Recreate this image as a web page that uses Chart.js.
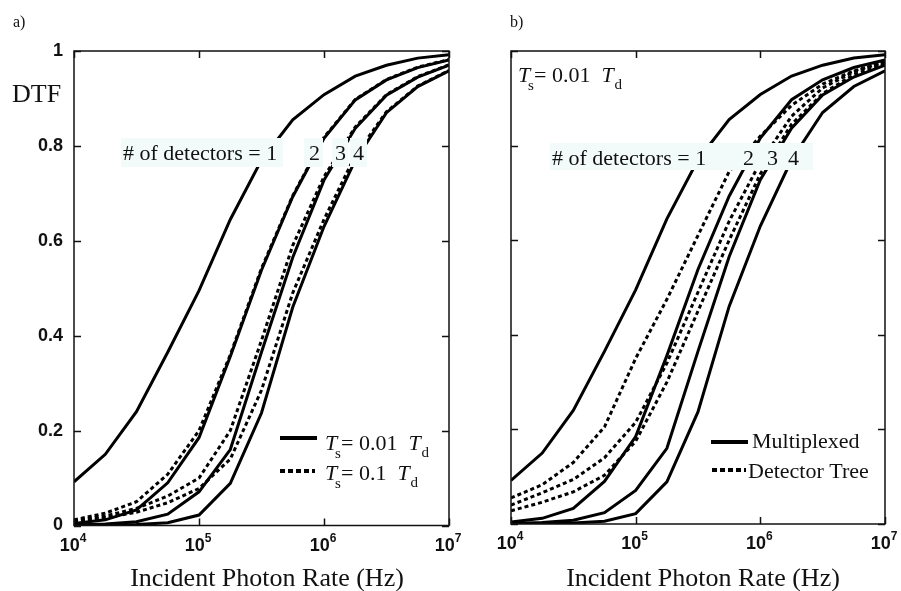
<!DOCTYPE html>
<html>
<head>
<meta charset="utf-8">
<script src="https://cdn.jsdelivr.net/npm/chart.js@4.4.0/dist/chart.umd.min.js"></script>
<style>
    html, body { margin: 0; padding: 0; background: #fff; }
    #wrap { position: relative; width: 901px; height: 591px; overflow: hidden; }
    canvas { position: absolute; top: 0; }
</style>
</head>
<body>
<div id="wrap">
    <canvas id="chartA" width="470" height="591" style="left:0"></canvas>
    <canvas id="chartB" width="451" height="591" style="left:450px"></canvas>
</div>
<script>
'use strict';

// incident photon rate (Hz), quarter decade steps
var rates = [1e4, 1.78e4, 3.16e4, 5.62e4, 1e5, 1.78e5, 3.16e5, 5.62e5, 1e6, 1.78e6, 3.16e6, 5.62e6, 1e7];

// Ts = 0.01 Td, 1..4 detectors (same curves are "Multiplexed" in panel b)
var fastN1 = [0.092, 0.150, 0.240, 0.365, 0.495, 0.645, 0.770, 0.855, 0.908, 0.947, 0.970, 0.985, 0.992];
var fastN2 = [0.004, 0.012, 0.033, 0.090, 0.185, 0.356, 0.538, 0.693, 0.816, 0.897, 0.939, 0.965, 0.981];
var fastN3 = [0.001, 0.003, 0.008, 0.024, 0.071, 0.160, 0.365, 0.565, 0.728, 0.837, 0.907, 0.945, 0.970];
var fastN4 = [0.000, 0.001, 0.002, 0.006, 0.022, 0.089, 0.237, 0.460, 0.630, 0.770, 0.870, 0.925, 0.958];

// Ts = 0.1 Td, 2..4 detectors
var slowN2 = [0.012, 0.026, 0.050, 0.108, 0.200, 0.360, 0.542, 0.695, 0.818, 0.898, 0.940, 0.966, 0.982];
var slowN3 = [0.010, 0.020, 0.036, 0.062, 0.100, 0.200, 0.390, 0.590, 0.735, 0.840, 0.908, 0.946, 0.971];
var slowN4 = [0.008, 0.016, 0.028, 0.048, 0.078, 0.140, 0.285, 0.490, 0.645, 0.780, 0.872, 0.926, 0.959];

// detector tree, 2..4 detectors
var treeN2 = [0.055, 0.083, 0.130, 0.205, 0.350, 0.475, 0.610, 0.745, 0.820, 0.885, 0.930, 0.958, 0.976];
var treeN3 = [0.040, 0.066, 0.094, 0.140, 0.215, 0.340, 0.490, 0.640, 0.765, 0.862, 0.922, 0.956, 0.977];
var treeN4 = [0.028, 0.046, 0.068, 0.103, 0.175, 0.300, 0.450, 0.600, 0.740, 0.845, 0.910, 0.950, 0.972];

var xTicks = [1e4, 1e5, 1e6, 1e7];
var xTickExp = ['4', '5', '6', '7'];
var yTicks = [0, 0.2, 0.4, 0.6, 0.8, 1];
var yTickLabels = ['0', '0.2', '0.4', '0.6', '0.8', '1'];

var SERIF = '"Liberation Serif", "Times New Roman", serif';
var SANS = '"Liberation Sans", Arial, sans-serif';
var INK = '#111';
var BOX = '#f3fafa';

function toPoints(values) {
    return rates.map(function (r, i) {
        return {x: r, y: values[i]};
    });
}

function solid(values) {
    return {
        data: toPoints(values),
        borderColor: '#000',
        borderWidth: 3,
        borderCapStyle: 'butt',
        pointRadius: 0,
        tension: 0,
        fill: false
    };
}

function dashed(values) {
    var ds = solid(values);
    ds.borderDash = [4, 3];
    return ds;
}

// italic T with subscript s ... T with subscript d
function drawTs(ctx, x, y, middle) {
    ctx.textAlign = 'left';
    ctx.font = 'italic 22px ' + SERIF;
    ctx.fillText('T', x, y);
    ctx.font = '15px ' + SERIF;
    ctx.fillText('s', x + 10, y + 8);
    ctx.font = '22px ' + SERIF;
    var txt = '= ' + middle + '  ';
    ctx.fillText(txt, x + 16, y);
    var x2 = x + 16 + ctx.measureText(txt).width;
    ctx.font = 'italic 22px ' + SERIF;
    ctx.fillText('T', x2, y);
    ctx.font = '15px ' + SERIF;
    ctx.fillText('d', x2 + 13, y + 7);
}

function labelBox(ctx, x, y, w, h, text, tx) {
    ctx.fillStyle = BOX;
    ctx.fillRect(x, y, w, h);
    ctx.fillStyle = INK;
    ctx.font = '22px ' + SERIF;
    ctx.textAlign = 'left';
    ctx.fillText(text, tx, y + 22);
}

function framePlugin(cfg) {
    return {
        id: 'frame' + cfg.name,
        afterDatasetsDraw: function (chart) {
            var ctx = chart.ctx;
            var area = chart.chartArea;
            var xs = chart.scales.x;
            var ys = chart.scales.y;
            ctx.save();

            // annotations drawn over the curves
            cfg.annotate(ctx, area);

            ctx.strokeStyle = INK;
            ctx.lineWidth = 1.5;
            ctx.strokeRect(area.left, area.top, area.right - area.left, area.bottom - area.top);

            ctx.beginPath();
            xTicks.forEach(function (v) {
                var px = Math.round(xs.getPixelForValue(v)) + 0.5;
                ctx.moveTo(px, area.bottom);
                ctx.lineTo(px, area.bottom - 7);
                ctx.moveTo(px, area.top);
                ctx.lineTo(px, area.top + 7);
            });
            yTicks.forEach(function (v) {
                var py = Math.round(ys.getPixelForValue(v)) + 0.5;
                ctx.moveTo(area.left, py);
                ctx.lineTo(area.left + 7, py);
                ctx.moveTo(area.right, py);
                ctx.lineTo(area.right - 7, py);
            });
            ctx.stroke();

            ctx.fillStyle = INK;
            ctx.textBaseline = 'alphabetic';
            xTicks.forEach(function (v, i) {
                var px = xs.getPixelForValue(v);
                ctx.font = 'bold 18px ' + SANS;
                var w1 = ctx.measureText('10').width;
                ctx.font = 'bold 12px ' + SANS;
                var w2 = ctx.measureText(xTickExp[i]).width;
                var x0 = px - (w1 + w2) / 2 - 1;
                ctx.textAlign = 'left';
                ctx.font = 'bold 18px ' + SANS;
                ctx.fillText('10', x0, area.bottom + 25);
                ctx.font = 'bold 12px ' + SANS;
                ctx.fillText(xTickExp[i], x0 + w1, area.bottom + 16);
            });

            if (cfg.yLabels) {
                ctx.font = 'bold 18px ' + SANS;
                ctx.textAlign = 'right';
                ctx.textBaseline = 'middle';
                yTicks.forEach(function (v, i) {
                    ctx.fillText(yTickLabels[i], area.left - 11, ys.getPixelForValue(v));
                });
                ctx.textBaseline = 'alphabetic';
            }

            ctx.font = '26px ' + SERIF;
            ctx.textAlign = 'center';
            ctx.fillText('Incident Photon Rate (Hz)', cfg.titleX, 586);

            ctx.textAlign = 'left';
            ctx.font = '16px ' + SERIF;
            ctx.fillText(cfg.tag, cfg.tagX, 27);

            ctx.restore();
        }
    };
}

function makePanel(canvasId, datasets, padding, plugin) {
    var el = document.getElementById(canvasId).getContext('2d');
    return new Chart(el, {
        type: 'line',
        data: {datasets: datasets},
        options: {
            responsive: false,
            animation: false,
            events: [],
            layout: {padding: padding},
            scales: {
                x: {type: 'logarithmic', min: 1e4, max: 1e7, display: false},
                y: {type: 'linear', min: 0, max: 1, display: false}
            },
            plugins: {
                legend: {display: false},
                tooltip: {enabled: false}
            }
        },
        plugins: [plugin]
    });
}

// panel a)
makePanel('chartA', [
    solid(fastN1), solid(fastN2), solid(fastN3), solid(fastN4),
    dashed(slowN2), dashed(slowN3), dashed(slowN4)
], {left: 74, right: 21, top: 51, bottom: 65.5}, framePlugin({
    name: 'A',
    yLabels: true,
    titleX: 267,
    tag: 'a)',
    tagX: 13,
    annotate: function (ctx) {
        labelBox(ctx, 121, 138, 162, 29, '# of detectors = 1', 123);
        labelBox(ctx, 304, 138, 19, 29, '2', 309);
        labelBox(ctx, 332, 138, 16, 29, '3', 335);
        labelBox(ctx, 350, 138, 17, 29, '4', 353);

        ctx.fillStyle = INK;
        ctx.font = '26px ' + SERIF;
        ctx.textAlign = 'left';
        ctx.fillText('DTF', 12, 102);

        // legend
        ctx.strokeStyle = '#000';
        ctx.lineWidth = 4;
        ctx.beginPath();
        ctx.moveTo(280, 438);
        ctx.lineTo(317, 438);
        ctx.stroke();
        ctx.setLineDash([5, 3]);
        ctx.beginPath();
        ctx.moveTo(280, 471);
        ctx.lineTo(315, 471);
        ctx.stroke();
        ctx.setLineDash([]);
        drawTs(ctx, 325, 450, '0.01');
        drawTs(ctx, 325, 480, '0.1');
    }
}));

// panel b)
makePanel('chartB', [
    solid(fastN1), solid(fastN2), solid(fastN3), solid(fastN4),
    dashed(treeN2), dashed(treeN3), dashed(treeN4)
], {left: 61, right: 16, top: 51, bottom: 67}, framePlugin({
    name: 'B',
    yLabels: false,
    titleX: 253,
    tag: 'b)',
    tagX: 60,
    annotate: function (ctx) {
        labelBox(ctx, 100, 143, 263, 27, '# of detectors = 1', 102);
        ctx.fillText('2', 293, 165);
        ctx.fillText('3', 317, 165);
        ctx.fillText('4', 338, 165);

        ctx.fillStyle = INK;
        drawTs(ctx, 68, 82, '0.01');

        ctx.strokeStyle = '#000';
        ctx.lineWidth = 4;
        ctx.beginPath();
        ctx.moveTo(261, 442);
        ctx.lineTo(298, 442);
        ctx.stroke();
        ctx.setLineDash([5, 3]);
        ctx.beginPath();
        ctx.moveTo(262, 470);
        ctx.lineTo(296, 470);
        ctx.stroke();
        ctx.setLineDash([]);
        ctx.fillStyle = INK;
        ctx.font = '22px ' + SERIF;
        ctx.textAlign = 'left';
        ctx.fillText('Multiplexed', 302, 448);
        ctx.fillText('Detector Tree', 298, 478);
    }
}));
</script>
</body>
</html>
